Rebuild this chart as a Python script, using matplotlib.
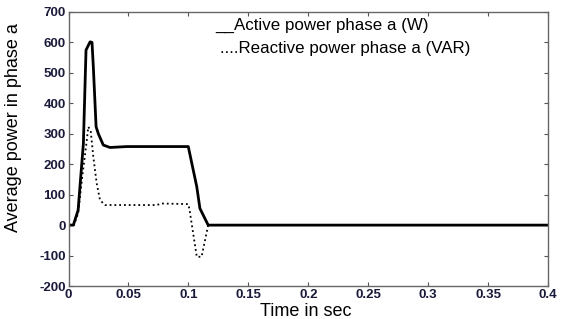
import numpy as np
import matplotlib
matplotlib.use('Agg')
import matplotlib.pyplot as plt

# Values
t_active = [0.0, 0.004, 0.008, 0.0124, 0.0146, 0.018, 0.0196, 0.0207, 0.023,
            0.0249, 0.029, 0.0346, 0.0485, 0.0999, 0.107, 0.1096, 0.1165, 0.4]
p_active = [0, 0, 49, 268, 575, 602, 600, 520, 323,
            300, 263, 255, 258, 258, 126, 55, 0, 0]

t_reactive = [0.0, 0.0045, 0.008, 0.0118, 0.0146, 0.0165, 0.0185, 0.0207, 0.0235,
              0.0263, 0.0304, 0.0735, 0.0778, 0.0999, 0.101, 0.107, 0.111, 0.1165, 0.4]
p_reactive = [0, 0, 38, 170, 257, 323, 310, 224, 137,
              82, 66, 66, 71, 69, 49, -104, -104, 0, 0]

x_ticks = [0, 0.05, 0.1, 0.15, 0.2, 0.25, 0.3, 0.35, 0.4]
x_labels = ['0', '0.05', '0.1', '0.15', '0.2', '0.25', '0.3', '0.35', '0.4']
y_ticks = [-200, -100, 0, 100, 200, 300, 400, 500, 600, 700]

plt.rcParams['font.family'] = ['Liberation Sans', 'DejaVu Sans']
plt.rcParams['axes.unicode_minus'] = False

fig = plt.figure(figsize=(5.63, 3.19), dpi=100)
ax = fig.add_axes([0.1217, 0.1034, 0.8517, 0.859])

ax.plot(t_active, p_active, color='black', linewidth=2.0)
ax.plot(t_reactive, p_reactive, color='black', linewidth=1.3, linestyle=':')

ax.set_xlim(0, 0.4)
ax.set_ylim(-200, 700)
ax.set_xticks(x_ticks)
ax.set_xticklabels(x_labels)
ax.set_yticks(y_ticks)

tick_col = '#1a1a3a'
ax.tick_params(direction='in', top=True, right=True, length=3, width=0.8,
               labelsize=9.5, colors='#555555', labelcolor=tick_col, pad=2)
for lbl in ax.get_xticklabels() + ax.get_yticklabels():
    lbl.set_fontweight('bold')
for sp in ax.spines.values():
    sp.set_color('#666666')
    sp.set_linewidth(1.0)

ax.set_xlabel('Time in sec', fontsize=13)
ax.xaxis.set_label_coords(0.495, -0.062)
ax.set_ylabel('Average power in phase a', fontsize=13)
ax.yaxis.set_label_coords(-0.097, 0.577)

# legend drawn as plain text, like the original
ax.text(0.122, 657, '__Active power phase a (W)', fontsize=12.2, va='center')
ax.text(0.1265, 581, '....Reactive power phase a (VAR)', fontsize=12.2, va='center')

plt.savefig('out.png', dpi=100)
